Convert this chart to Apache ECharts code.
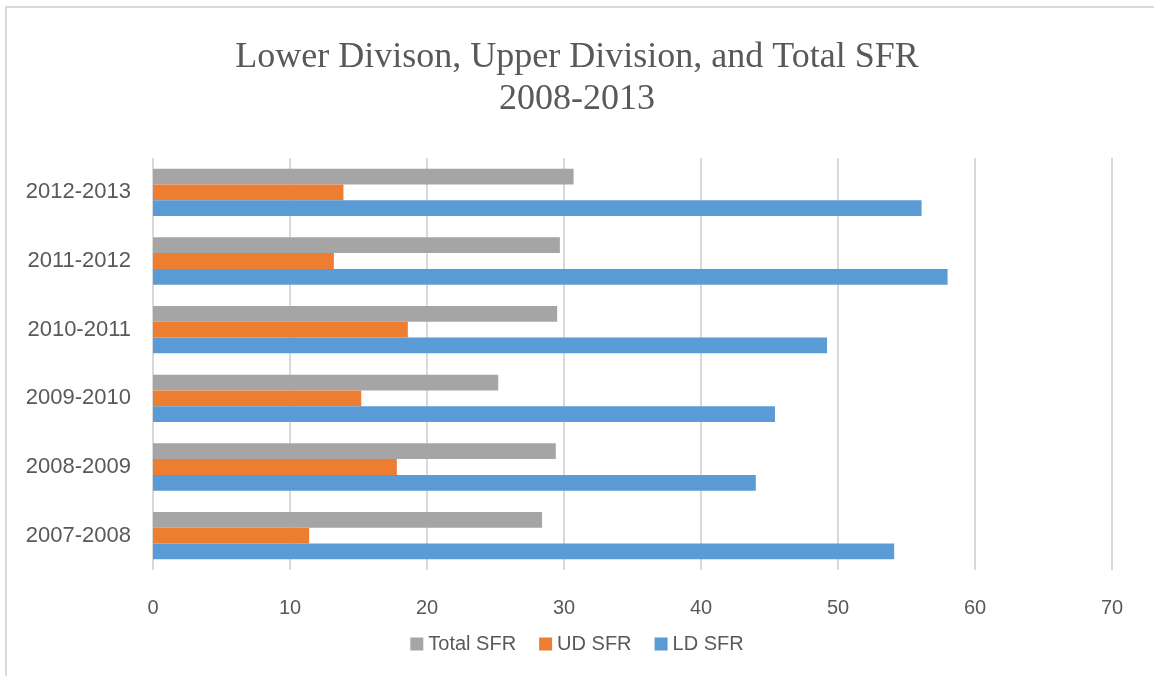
<!DOCTYPE html>
<html>
<head>
<meta charset="utf-8">
<title>SFR 2008-2013</title>
<script src="https://cdn.jsdelivr.net/npm/echarts@6/dist/echarts.min.js"></script>
<style>
  html, body { margin: 0; padding: 0; background: #fff; }
  #chart { width: 1154px; height: 676px; }
</style>
</head>
<body>
<div id="chart"></div>
<script>
// category order bottom -> top (ECharts puts the first category at the bottom)
const years = ['2007-2008', '2008-2009', '2009-2010', '2010-2011', '2011-2012', '2012-2013']
const ldSfr = [54.1, 44.0, 45.4, 49.2, 58.0, 56.1]
const udSfr = [11.4, 17.8, 15.2, 18.6, 13.2, 13.9]
const totalSfr = [28.4, 29.4, 25.2, 29.5, 29.7, 30.7]
const xTicks = [0, 10, 20, 30, 40, 50, 60, 70]

const textColor = '#595959'
const sans = '"Liberation Sans", Arial, sans-serif'

const chart = echarts.init(document.getElementById('chart'), null, { renderer: 'canvas' })

function bar(name, data, color) {
  return {
    name,
    type: 'bar',
    data,
    barGap: 0,
    barCategoryGap: '31%',
    itemStyle: { color },
    emphasis: { disabled: true }
  }
}

chart.setOption({
  animation: false,
  backgroundColor: '#fff',
  graphic: [{
    type: 'rect',
    shape: { x: 6, y: 7, width: 1200, height: 700 },
    style: { fill: 'none', stroke: '#d9d9d9', lineWidth: 2 },
    silent: true
  }],
  title: {
    text: 'Lower Divison, Upper Division, and Total SFR\n2008-2013',
    left: 'center',
    top: 32,
    textStyle: {
      fontFamily: '"Liberation Serif", "Times New Roman", serif',
      fontWeight: 'normal',
      fontSize: 36,
      lineHeight: 42,
      color: textColor
    }
  },
  legend: {
    data: ['Total SFR', 'UD SFR', 'LD SFR'],
    bottom: 17,
    left: 'center',
    icon: 'rect',
    itemWidth: 13,
    itemHeight: 13,
    itemGap: 23,
    textStyle: { fontFamily: sans, fontSize: 20, color: textColor }
  },
  grid: { left: 153, right: 42, top: 158, bottom: 106 },
  xAxis: {
    type: 'value',
    min: xTicks[0],
    max: xTicks[xTicks.length - 1],
    interval: 10,
    axisLine: { show: false },
    axisTick: { show: false },
    splitLine: { lineStyle: { color: '#d9d9d9', width: 2 } },
    axisLabel: { fontFamily: sans, fontSize: 20, color: textColor, margin: 28 }
  },
  yAxis: {
    type: 'category',
    data: years,
    axisLine: { show: false },
    axisTick: { show: false },
    axisLabel: { fontFamily: sans, fontSize: 22, color: textColor, margin: 22 }
  },
  // first series is drawn at the top of each band
  series: [
    bar('Total SFR', totalSfr, '#a5a5a5'),
    bar('UD SFR', udSfr, '#ed7d31'),
    bar('LD SFR', ldSfr, '#5b9bd5')
  ]
})
</script>
</body>
</html>
